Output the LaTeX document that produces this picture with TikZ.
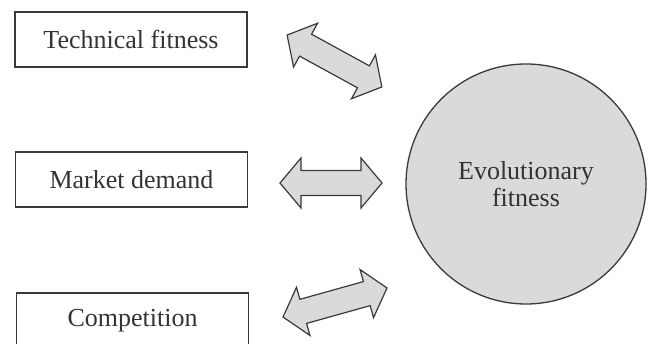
\documentclass[tikz,border=0pt]{standalone}
\usepackage{fontspec}
\setmainfont{Liberation Serif}
\definecolor{ink}{HTML}{333333}
\definecolor{edge}{HTML}{3A3A3A}
\definecolor{shade}{HTML}{DADADA}
\tikzset{
  factorbox/.style={draw=edge, line width=1.2pt, minimum width=232pt, minimum height=55pt,
    inner sep=0pt, text=ink, font=\fontsize{26}{27}\selectfont},
  bigcircle/.style={circle, draw=edge, line width=1.3pt, fill=shade, minimum size=240pt,
    inner sep=0pt, text=ink, align=center, font=\fontsize{26}{27}\selectfont},
  blockarrow/.style={draw=edge, line width=1.2pt, fill=shade, line join=miter}
}
\newcommand\dblblockarrow[3]{%
  \begin{scope}[shift={#1}, rotate=#2]
    \pgfmathsetmacro\halfL{#3}
    \pgfmathsetmacro\baseL{#3-21}
    \draw[blockarrow] (-\halfL,0) -- (-\baseL,25) -- (-\baseL,12.5) -- (\baseL,12.5)
      -- (\baseL,25) -- (\halfL,0) -- (\baseL,-25) -- (\baseL,-12.5)
      -- (-\baseL,-12.5) -- (-\baseL,-25) -- cycle;
  \end{scope}}
\begin{document}
\begin{tikzpicture}[x=1pt, y=1pt]
  \useasboundingbox (0,0) rectangle (652,344);
  \clip (0,0) rectangle (652,344);
  \node[factorbox] (tech) at (131,304.5) {Technical fitness};
  \node[factorbox] (market) at (131.5,164.5) {Market demand};
  \node[factorbox] (comp) at (132.5,23.5) {Competition};
  \node[bigcircle] (evo) at (526,160) {Evolutionary\\fitness};
  \dblblockarrow{(334.5,283)}{-28.7}{54}
  \dblblockarrow{(331,161)}{0}{51}
  \dblblockarrow{(335,41.5)}{15.6}{54}
\end{tikzpicture}
\end{document}
